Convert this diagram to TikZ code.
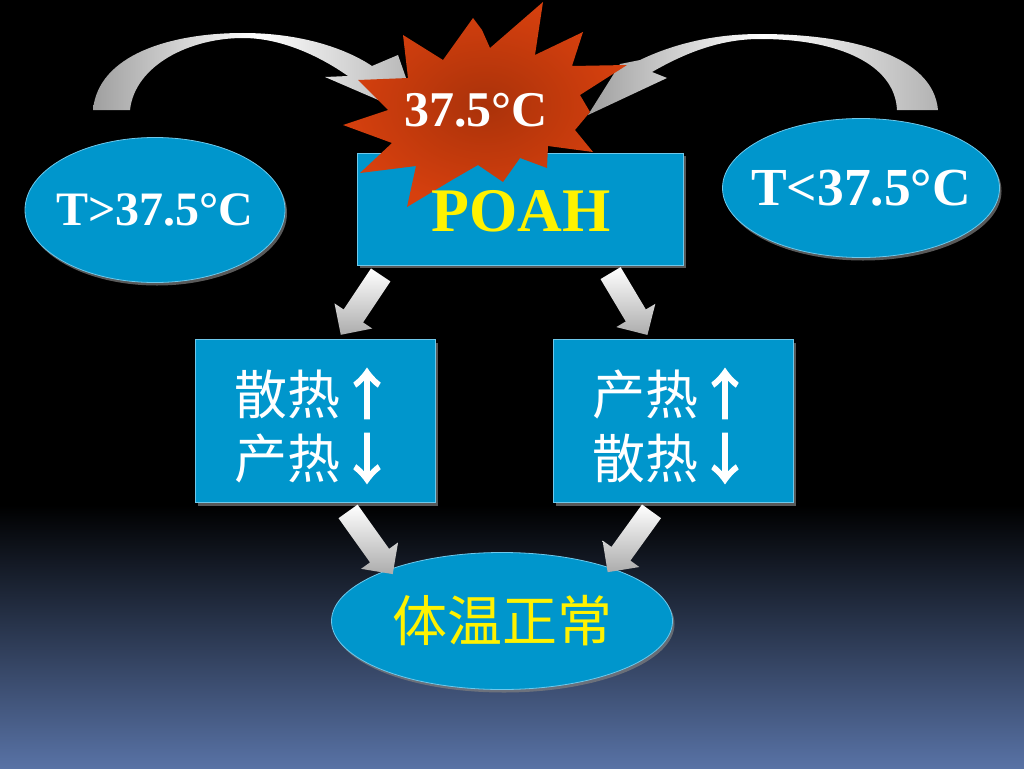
\documentclass[tikz,border=0pt]{standalone}
\usepackage{fontspec}
\setmainfont{Liberation Serif}
\newfontfamily\cjk{Noto Sans CJK SC}
\newfontfamily\cjkarrow[FakeBold=4]{Noto Sans CJK SC}
\usetikzlibrary{shapes.geometric,shapes.arrows,shadows}
\definecolor{boxblue}{RGB}{0,150,204}
\definecolor{rimblue}{RGB}{110,200,235}
\definecolor{starred}{RGB}{214,64,14}
\definecolor{stardark}{RGB}{170,50,10}
\definecolor{bgbottom}{RGB}{88,114,165}
\tikzset{
  bluebox/.style={rectangle, fill=boxblue, draw=rimblue, line width=0.8pt, inner sep=0pt,
    drop shadow={opacity=0.7, shadow xshift=3pt, shadow yshift=-3pt}},
  blueell/.style={ellipse, fill=boxblue, draw=rimblue, line width=0.8pt, inner sep=0pt,
    drop shadow={opacity=0.7, shadow xshift=2pt, shadow yshift=-3pt}},
  blockarrow/.style={single arrow, single arrow head extend=11pt,
    single arrow head indent=0pt, minimum height=#1, inner sep=0pt,
    top color=white, bottom color=gray!65, draw=none},
  bandshade/.style={left color=gray!75, right color=gray!60, middle color=white},
  wtext/.style={text=white, font=\bfseries\fontsize{#1}{#1}\selectfont},
}
\newcommand{\up}{{\cjkarrow ↑}}
\newcommand{\dn}{{\cjkarrow ↓}}
\newcommand{\shaft}{\rule{0pt}{23pt}}
\begin{document}
\begin{tikzpicture}[x=1pt,y=-1pt]
\useasboundingbox (0,0) rectangle (1024,768);
% background
\fill[black] (0,0) rectangle (1024,506);
\shade[top color=black, bottom color=bgbottom] (0,505) rectangle (1024,768);

% curved arrows
\shade[bandshade] (93,110) .. controls (98,55) and (170,33) .. (243,33)
  .. controls (300,33) and (345,48) .. (372,66) -- (398,55) -- (420,118) -- (325,77) -- (348,76)
  .. controls (318,55) and (280,38) .. (243,38)
  .. controls (190,38) and (135,65) .. (130,110) -- cycle;
\shade[bandshade] (938,110) .. controls (933,55) and (850,34) .. (760,34)
  .. controls (705,34) and (665,48) .. (640,60) -- (620,64) -- (588,115) -- (667,78) -- (652,72)
  .. controls (685,53) and (720,39) .. (760,39)
  .. controls (840,39) and (895,65) .. (897,110) -- cycle;

% side ellipses
\node[blueell, minimum width=260pt, minimum height=145pt] (hot) at (155,210) {};
\node[wtext=48] (hottext) at (hot.center) {T>37.5°C};
\node[blueell, minimum width=277pt, minimum height=139pt] (cold) at (861,188) {};
\node[wtext=53.5] (coldtext) at (cold.center) {T<37.5°C};

% POAH box
\node[bluebox, minimum width=326pt, minimum height=112pt] (poah) at (520,209) {};

% starburst
\shade[inner color=stardark, outer color=starred]
  (543,2) -- (535,55) -- (583,32) -- (572,66) -- (627,65) -- (580,95) -- (590,112)
  -- (575,130) -- (593,152) -- (548,146) -- (547,168) -- (520,158) -- (503,182)
  -- (478,165) -- (452,180) -- (407,207) -- (416,166) -- (360,173) -- (392,143)
  -- (343,125) -- (388,110) -- (358,80) -- (408,78) -- (403,35) -- (443,60)
  -- (473,18) -- (482,30) -- (490,48) -- cycle;
\node[wtext=50] (temp) at (476,110) {37.5°C};
\node[text=yellow, font=\bfseries\fontsize{62}{62}\selectfont] (poahtext) at (521,211) {POAH};

% middle boxes
\node[bluebox, minimum width=240pt, minimum height=163pt] (lbox) at (315,421) {};
\node[text=white, font=\cjk\fontsize{53}{64}\selectfont, align=center] (ltext) at (314,426)
  {散热\up\\产热\dn};
\node[bluebox, minimum width=240pt, minimum height=163pt] (rbox) at (673,421) {};
\node[text=white, font=\cjk\fontsize{53}{64}\selectfont, align=center] (rtext) at (672,426)
  {产热\up\\散热\dn};

% bottom ellipse
\node[blueell, minimum width=341pt, minimum height=137pt] (normal) at (502,621) {};
\node[text=yellow, font=\cjk\fontsize{55}{55}\selectfont] (normaltext) at (normal.center) {体温正常};

% block arrows
\node[blockarrow=72pt, rotate=236.3] (a1) at (364,300) {\shaft};
\node[blockarrow=72pt, rotate=-59.2] (a2) at (626,299) {\shaft};
\node[blockarrow=77pt, rotate=-54.5] (a3) at (367,538) {\shaft};
\node[blockarrow=75pt, rotate=234.2] (a4) at (633,537) {\shaft};
\end{tikzpicture}
\end{document}
